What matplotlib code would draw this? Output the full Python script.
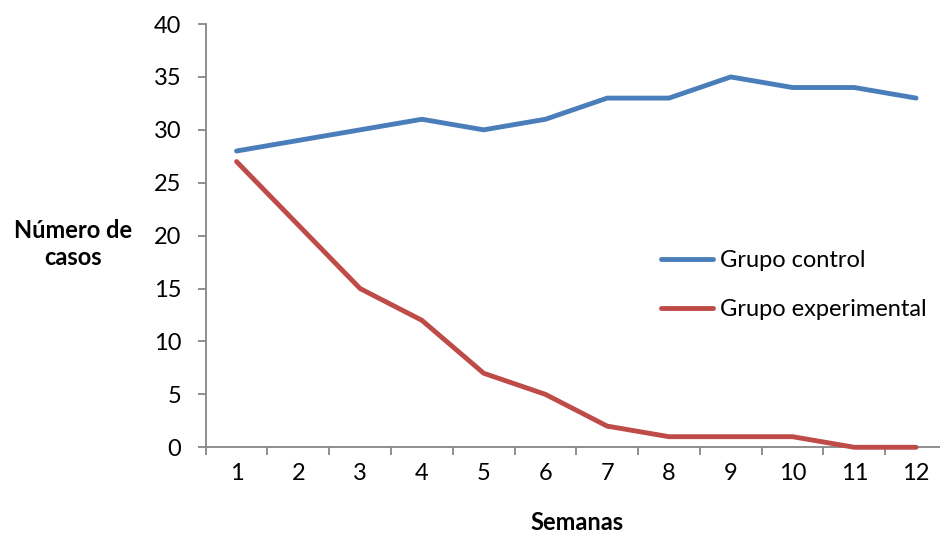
import matplotlib
matplotlib.use('Agg')
import matplotlib.pyplot as plt

plt.rcParams['font.family'] = ['Lato', 'DejaVu Sans']

semanas = ['1', '2', '3', '4', '5', '6', '7', '8', '9', '10', '11', '12']
grupo_control = [28, 29, 30, 31, 30, 31, 33, 33, 35, 34, 34, 33]
grupo_experimental = [27, 21, 15, 12, 7, 5, 2, 1, 1, 1, 0, 0]

azul = '#4A7EBB'
rojo = '#BE4B48'
gris = '#868686'
fs = 17

fig = plt.figure(figsize=(9.4, 5.34), dpi=100)
# el eje se sale un poco por la derecha, como en la hoja original
ax = fig.add_axes([0.2188, 0.1624, 0.7886, 0.7926])

x = range(1, len(semanas) + 1)
ax.plot(x, grupo_control, color=azul, lw=3.5, solid_capstyle='round',
        solid_joinstyle='round', label='Grupo control', clip_on=False, zorder=3)
ax.plot(x, grupo_experimental, color=rojo, lw=3.5, solid_capstyle='round',
        solid_joinstyle='round', label='Grupo experimental', clip_on=False, zorder=3)

ax.set_xlim(0.5, len(semanas) + 0.5)
ax.set_ylim(0, 40)
ax.set_yticks(range(0, 41, 5))
ax.set_xticks(list(x))
ax.set_xticklabels(semanas)
# marcas del eje x entre categorías
ax.set_xticks([i + 0.5 for i in range(0, len(semanas) + 1)], minor=True)
ax.tick_params(axis='x', which='major', length=0, pad=11, labelsize=fs)
ax.tick_params(axis='x', which='minor', length=5.5, width=1.3, color=gris, direction='out')
ax.tick_params(axis='y', length=5.5, width=1.3, color=gris, direction='out', pad=12,
               labelsize=fs)

for s in ['top', 'right']:
    ax.spines[s].set_visible(False)
for s in ['left', 'bottom']:
    ax.spines[s].set_color(gris)
    ax.spines[s].set_linewidth(1.3)

fig.text(577 / 940, 1 - 522 / 534, 'Semanas', ha='center', va='center',
         fontsize=fs, fontweight='bold')
fig.text(73 / 940, 1 - 244 / 534, 'Número de\ncasos', ha='center', va='center',
         fontsize=fs, fontweight='bold', linespacing=1.25)

ax.legend(loc='center left', bbox_to_anchor=(0.601, 0.383), frameon=False, fontsize=fs,
          handlelength=2.2, handletextpad=0.3, labelspacing=1.2, borderaxespad=0)

fig.savefig('out.png', dpi=100)
